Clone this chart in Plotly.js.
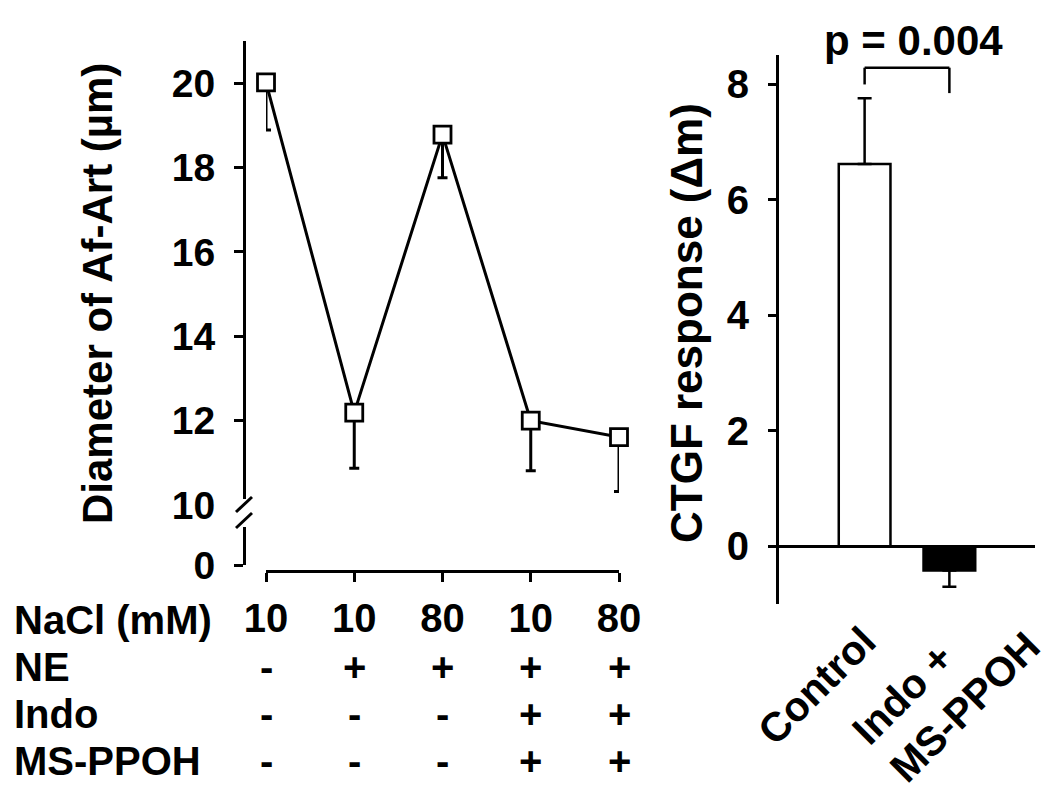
<!DOCTYPE html>
<html>
<head>
<meta charset="utf-8">
<script src="https://cdn.plot.ly/plotly-3.0.1.min.js"></script>
<style>html,body{margin:0;padding:0;background:#fff;}#chart{width:1050px;height:794px;}</style>
</head>
<body>
<div id="chart"></div>
<script>
// ---------- data ----------
const conditionIndex = [0, 1, 2, 3, 4];
const naclMM = ['10', '10', '80', '10', '80'];
const neRow = ['-', '+', '+', '+', '+'];
const indoRow = ['-', '-', '-', '+', '+'];
const msppohRow = ['-', '-', '-', '+', '+'];
const rowLabels = ['NaCl (mM)', 'NE', 'Indo', 'MS-PPOH'];
const diameter = [20.02, 12.19, 18.78, 12.00, 11.61];
const diameterErrUp = [0, 0, 0, 0, 0];
const diameterErrDown = [1.13, 1.32, 1.02, 1.19, 1.29];
const diameterTicks = [10, 12, 14, 16, 18, 20];
const diameterLowTicks = [0];

const groups = ['Control', 'Indo +<br>MS-PPOH'];
const ctgf = [6.62, -0.42];
const ctgfErrUp = [1.14, 0];
const ctgfErrDown = [0, 0.28];
const ctgfColors = ['white', 'black'];
const ctgfTicks = [0, 2, 4, 6, 8];
const pText = 'p = 0.004';
const bracket = {left: 8.0, top: 8.29, right: 7.85};

// ---------- helpers (pixel -> paper) ----------
const W = 1050, H = 794;
const px = v => v / W;
const py = v => 1 - v / H;
const FONT = 'Liberation Sans, Arial, Helvetica, sans-serif';
const bold = size => ({family: FONT, size: size, color: 'black', weight: 700});

const traces = [
  {
    type: 'scatter', mode: 'lines+markers',
    x: conditionIndex, y: diameter, xaxis: 'x', yaxis: 'y',
    cliponaxis: false,
    line: {color: 'black', width: 3},
    marker: {symbol: 'square', size: 17, color: 'white', line: {color: 'black', width: 2.8}},
    error_y: {type: 'data', symmetric: false, array: diameterErrUp, arrayminus: diameterErrDown,
              color: 'black', thickness: 3, width: 5},
    hoverinfo: 'skip'
  },
  { // carries the lower (broken) y-axis segment
    type: 'scatter', mode: 'markers', x: [], y: [], xaxis: 'x', yaxis: 'y3', hoverinfo: 'skip'
  },
  {
    type: 'bar', x: groups, y: ctgf, xaxis: 'x2', yaxis: 'y2',
    width: 0.61,
    marker: {color: ctgfColors, line: {color: 'black', width: 2.5}},
    error_y: {type: 'data', symmetric: false, array: ctgfErrUp, arrayminus: ctgfErrDown,
              color: 'black', thickness: 2.5, width: 7},
    hoverinfo: 'skip'
  }
];

const axisCommon = {
  showgrid: false, zeroline: false, showline: true, linecolor: 'black', linewidth: 3,
  ticks: 'outside', tickcolor: 'black', tickwidth: 3, ticklen: 9,
  tickfont: bold(39), fixedrange: true
};

const TABLE = 40;
const rowY = [620, 667, 714, 761];
const annotations = [];
rowLabels.forEach((t, i) => annotations.push({
  xref: 'paper', yref: 'paper', x: px(12), y: py(rowY[i]), xanchor: 'left', yanchor: 'middle',
  text: t, showarrow: false, font: bold(TABLE)
}));
[neRow, indoRow, msppohRow].forEach((row, r) => row.forEach((s, i) => annotations.push({
  xref: 'x', yref: 'paper', x: conditionIndex[i], y: py(rowY[r + 1]), xanchor: 'center', yanchor: 'middle',
  text: s, showarrow: false, font: bold(TABLE)
})));
annotations.push({
  xref: 'paper', yref: 'paper', x: px(97), y: py(294), textangle: -90,
  text: 'Diameter of Af-Art (µm)', showarrow: false, xanchor: 'center', yanchor: 'middle',
  font: bold(42)
});
annotations.push({
  xref: 'paper', yref: 'paper', x: px(686), y: py(323), textangle: -90,
  text: 'CTGF response (Δm)', showarrow: false, xanchor: 'center', yanchor: 'middle',
  font: bold(44)
});
annotations.push({
  xref: 'paper', yref: 'paper', x: px(913), y: py(40),
  text: pText, showarrow: false, xanchor: 'center', yanchor: 'middle',
  font: bold(42)
});
const groupShift = [-48, -4];
const groupY = [686, 688];
groups.forEach((g, i) => annotations.push({
  xref: 'x2', yref: 'paper', x: i, y: py(groupY[i]), xshift: groupShift[i],
  textangle: -45, align: 'left', text: g, showarrow: false, xanchor: 'center', yanchor: 'middle',
  font: bold(41)
}));

const shapes = [
  // axis break: blank the gap, then two slashes
  {type: 'rect', xref: 'paper', yref: 'paper', x0: px(231), x1: px(256), y0: py(527), y1: py(499),
   fillcolor: 'white', line: {width: 0}, layer: 'above'},
  {type: 'line', xref: 'paper', yref: 'paper', x0: px(236), y0: py(512), x1: px(252), y1: py(497),
   line: {color: 'black', width: 3}, layer: 'above'},
  {type: 'line', xref: 'paper', yref: 'paper', x0: px(236), y0: py(528), x1: px(252), y1: py(513),
   line: {color: 'black', width: 3}, layer: 'above'},
  // significance bracket
  {type: 'line', xref: 'x2', yref: 'y2', x0: 0, x1: 0, y0: bracket.left, y1: bracket.top, line: {color: 'black', width: 2.5}},
  {type: 'line', xref: 'x2', yref: 'y2', x0: 0, x1: 1, y0: bracket.top, y1: bracket.top, line: {color: 'black', width: 2.5}},
  {type: 'line', xref: 'x2', yref: 'y2', x0: 1, x1: 1, y0: bracket.top, y1: bracket.right, line: {color: 'black', width: 2.5}}
];

const layout = {
  width: W, height: H,
  margin: {l: 0, r: 0, t: 0, b: 0},
  paper_bgcolor: 'white', plot_bgcolor: 'rgba(0,0,0,0)',
  showlegend: false,
  font: bold(38),
  xaxis: Object.assign({}, axisCommon, {
    domain: [px(266), px(619)], range: [0, 4], anchor: 'free', position: py(571),
    tickmode: 'array', tickvals: conditionIndex, ticktext: naclMM, ticklabelstandoff: 2,
    tickfont: bold(TABLE)
  }),
  yaxis: Object.assign({}, axisCommon, {
    domain: [py(505), py(41)], range: [10, 21], anchor: 'free', position: px(244),
    tickmode: 'array', tickvals: diameterTicks, ticklabelstandoff: 11
  }),
  yaxis3: Object.assign({}, axisCommon, {
    domain: [py(565), py(527)], range: [0, 1], anchor: 'free', position: px(244),
    tickmode: 'array', tickvals: diameterLowTicks, ticklabelstandoff: 11
  }),
  xaxis2: {
    domain: [px(779), px(1035)], range: [-1.01, 2.01], anchor: 'y2', type: 'category',
    showline: false, ticks: '', showticklabels: false, showgrid: false, zeroline: false, fixedrange: true
  },
  yaxis2: Object.assign({}, axisCommon, {
    domain: [py(604), py(55)], range: [-1.0, 8.51], anchor: 'x2',
    tickmode: 'array', tickvals: ctgfTicks, ticklen: 8, ticklabelstandoff: 11,
    tickfont: bold(40),
    zeroline: true, zerolinecolor: 'black', zerolinewidth: 3
  }),
  annotations: annotations,
  shapes: shapes
};

Plotly.newPlot('chart', traces, layout, {displayModeBar: false, staticPlot: true});
</script>
</body>
</html>
